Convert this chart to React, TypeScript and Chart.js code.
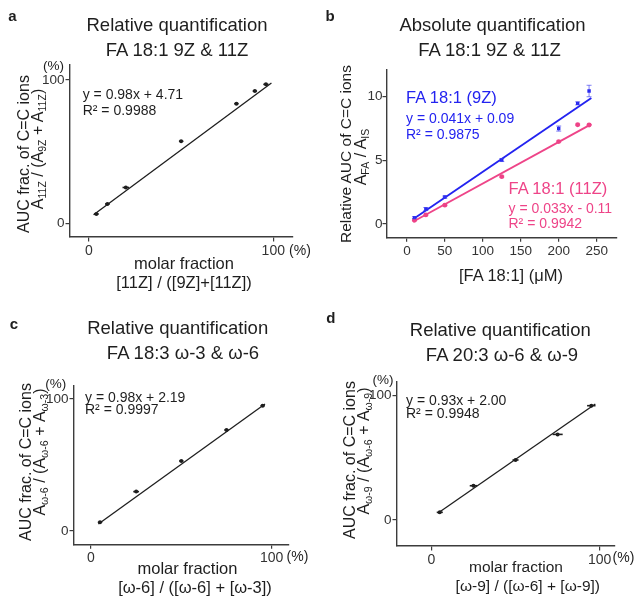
import React, { useEffect, useRef } from 'react';
import { Chart, registerables } from 'chart.js';

Chart.register(...registerables);

const FONT = '"Liberation Sans", Arial, Helvetica, sans-serif';
const INK = '#1e1e1e';
const AXIS = '#3c3c3c';
const TICK = '#333333';
const BLUE = '#2323f0';
const PINK = '#ee4488';

// ---------- Panel a: FA 18:1 9Z & 11Z (relative) ----------
const aX = [4, 10, 20, 50, 80, 90, 96];
const aY = [6.5, 13.5, 25, 57.3, 83.5, 92.3, 97];
const aXErr = [1.3, 1.3, 1.8, 1.2, 1.2, 1.2, 1.4];
const aFitX = [2.5, 99];
const aFitY = [6, 98];
const aXTicks = [0, 100];
const aYTicks = [0, 100];

// ---------- Panel b: FA 18:1 absolute ----------
const bX = [10, 25, 50, 125, 200, 225, 240];
const b9Z = [0.5, 1.18, 2.12, 5.03, 7.5, 9.48, 10.45];
const b9ZErr = [0.08, 0.12, 0.08, 0.12, 0.2, 0.12, 0.45];
const b11Z = [0.3, 0.72, 1.48, 3.72, 6.48, 7.8, 7.78];
const b11ZErr = [0.05, 0.05, 0.05, 0.06, 0.06, 0.06, 0.05];
const bFitX = [8, 243];
const b9ZFit = [0.38, 9.9];
const b11ZFit = [0.18, 7.85];
const bXTicks = [0, 50, 100, 150, 200, 250];
const bYTicks = [0, 5, 10];

// ---------- Panel c: FA 18:3 ω-3 & ω-6 ----------
const cX = [5, 25, 50, 75, 95];
const cY = [6.6, 29.8, 53, 76.5, 94.9];
const cXErr = [1.2, 1.6, 1.2, 1.2, 1.2];
const cFitX = [4.1, 96.3];
const cFitY = [5.3, 96.2];
const cXTicks = [0, 100];
const cYTicks = [0, 100];

// ---------- Panel d: FA 20:3 ω-6 & ω-9 ----------
const dX = [5, 25, 50, 75, 95];
const dY = [6.2, 27.6, 48.3, 68.9, 92];
const dXErr = [1.8, 2.2, 1.8, 3, 2.5];
const dFitX = [3.8, 97.4];
const dFitY = [5.4, 93.3];
const dXTicks = [0, 100];
const dYTicks = [0, 100];

const pts = (xs: number[], ys: number[]) => xs.map((x, i) => ({ x, y: ys[i] }));

const errorBarsPlugin = {
  id: 'errorBars',
  afterDatasetsDraw(chart: any) {
    const ctx = chart.ctx;
    const xs = chart.scales.x;
    const ys = chart.scales.y;
    chart.data.datasets.forEach((ds: any) => {
      const ex: number[] | undefined = ds.errX;
      const ey: number[] | undefined = ds.errY;
      if (!ex && !ey) return;
      ctx.save();
      ctx.strokeStyle = ds.errColor || ds.borderColor;
      ds.data.forEach((p: any, j: number) => {
        const px = xs.getPixelForValue(p.x);
        const py = ys.getPixelForValue(p.y);
        if (ey && ey[j]) {
          const y1 = ys.getPixelForValue(p.y - ey[j]);
          const y2 = ys.getPixelForValue(p.y + ey[j]);
          ctx.lineWidth = 1;
          ctx.beginPath();
          ctx.moveTo(px, y1);
          ctx.lineTo(px, y2);
          ctx.moveTo(px - 2.5, y1);
          ctx.lineTo(px + 2.5, y1);
          ctx.moveTo(px - 2.5, y2);
          ctx.lineTo(px + 2.5, y2);
          ctx.stroke();
        }
        if (ex && ex[j]) {
          const x1 = xs.getPixelForValue(p.x - ex[j]);
          const x2 = xs.getPixelForValue(p.x + ex[j]);
          ctx.lineWidth = 1.6;
          ctx.beginPath();
          ctx.moveTo(x1, py);
          ctx.lineTo(x2, py);
          ctx.stroke();
        }
      });
      ctx.restore();
    });
  },
};

type Box = [number, number, number, number];

interface PanelSpec {
  panel: Box; // x, y, w, h (page coords)
  area: Box; // left, top, right, bottom (page coords)
  xMin: number;
  xMax: number;
  yMin: number;
  yMax: number;
  xTicks: number[];
  yTicks: number[];
  xSize: number;
  ySize: number;
  tickLen: number;
  xPad: number;
  yPad: number;
  datasets: any[];
}

const Y_W = 40;
const X_H = 24;

function buildConfig(s: PanelSpec): any {
  const [px, py, pw, ph] = s.panel;
  const [L, T, R, B] = s.area;
  const padding = {
    left: L - px - Y_W,
    top: T - py,
    right: px + pw - R,
    bottom: py + ph - B - X_H,
  };
  const axis = (ticks: number[], pad: number, size: number) => ({
    type: 'linear',
    border: { display: true, color: AXIS, width: 1.4 },
    grid: {
      display: true,
      drawOnChartArea: false,
      drawTicks: true,
      tickLength: s.tickLen,
      color: AXIS,
      lineWidth: 1.2,
    },
    afterBuildTicks: (sc: any) => {
      sc.ticks = ticks.map((v) => ({ value: v }));
    },
    ticks: {
      color: TICK,
      font: { family: FONT, size },
      padding: pad,
      autoSkip: false,
      maxRotation: 0,
      callback: (v: any) => String(v),
    },
  });
  return {
    type: 'scatter',
    data: { datasets: s.datasets },
    options: {
      animation: false,
      responsive: false,
      maintainAspectRatio: false,
      events: [],
      layout: { padding },
      plugins: { legend: { display: false }, tooltip: { enabled: false } },
      scales: {
        x: {
          ...axis(s.xTicks, s.xPad, s.xSize),
          position: 'bottom',
          min: s.xMin,
          max: s.xMax,
          afterFit: (sc: any) => {
            sc.height = X_H;
          },
        },
        y: {
          ...axis(s.yTicks, s.yPad, s.ySize),
          position: 'left',
          min: s.yMin,
          max: s.yMax,
          afterFit: (sc: any) => {
            sc.width = Y_W;
          },
        },
      },
    },
    plugins: [errorBarsPlugin],
  };
}

const fitDs = (xs: number[], ys: number[], color: string, w: number) => ({
  data: pts(xs, ys),
  showLine: true,
  borderColor: color,
  borderWidth: w,
  pointRadius: 0,
  fill: false,
  order: 2,
});

const dotDs = (xs: number[], ys: number[], color: string, extra: any = {}) => ({
  data: pts(xs, ys),
  showLine: false,
  pointRadius: 2.2,
  pointBorderWidth: 0,
  backgroundColor: color,
  borderColor: color,
  order: 1,
  ...extra,
});

const specs: PanelSpec[] = [
  {
    panel: [0, 0, 317, 300],
    area: [70, 65, 293, 237],
    xMin: -10.3,
    xMax: 110.7,
    yMin: -9.56,
    yMax: 110.5,
    xTicks: aXTicks,
    yTicks: aYTicks,
    xSize: 14,
    ySize: 13.5,
    tickLen: 4.5,
    xPad: 1,
    yPad: 1,
    datasets: [
      fitDs(aFitX, aFitY, INK, 1.3),
      dotDs(aX, aY, INK, { pointRadius: 2, errX: aXErr }),
    ],
  },
  {
    panel: [317, 0, 317, 300],
    area: [387, 70, 616.7, 237.3],
    xMin: -26.2,
    xMax: 276.4,
    yMin: -1.04,
    yMax: 12.1,
    xTicks: bXTicks,
    yTicks: bYTicks,
    xSize: 13.5,
    ySize: 13.5,
    tickLen: 4.5,
    xPad: 1,
    yPad: 0,
    datasets: [
      fitDs(bFitX, b9ZFit, BLUE, 1.9),
      fitDs(bFitX, b11ZFit, PINK, 1.9),
      dotDs(bX, b9Z, BLUE, { pointStyle: 'rect', pointRadius: 2.4, errY: b9ZErr, errColor: 'rgba(60,60,240,0.65)' }),
      dotDs(bX, b11Z, PINK, { pointRadius: 2.4, errY: b11ZErr, errColor: 'rgba(238,68,136,0.6)' }),
    ],
  },
  {
    panel: [0, 300, 317, 297],
    area: [74, 386, 288.3, 544.3],
    xMin: -9.4,
    xMax: 109.2,
    yMin: -10.1,
    yMax: 109.8,
    xTicks: cXTicks,
    yTicks: cYTicks,
    xSize: 14,
    ySize: 13.5,
    tickLen: 4.5,
    xPad: 1,
    yPad: 1,
    datasets: [
      fitDs(cFitX, cFitY, INK, 1.3),
      dotDs(cX, cY, INK, { pointRadius: 2, errX: cXErr }),
    ],
  },
  {
    panel: [317, 300, 317, 297],
    area: [397, 381.7, 614.7, 546],
    xMin: -20.4,
    xMax: 108.9,
    yMin: -20.9,
    yMax: 111.3,
    xTicks: dXTicks,
    yTicks: dYTicks,
    xSize: 14,
    ySize: 13.5,
    tickLen: 4.5,
    xPad: 1,
    yPad: 1,
    datasets: [
      fitDs(dFitX, dFitY, INK, 1.3),
      dotDs(dX, dY, INK, { pointRadius: 2, errX: dXErr }),
    ],
  },
];

function PanelChart({ spec }: { spec: PanelSpec }) {
  const ref = useRef<HTMLCanvasElement>(null);
  useEffect(() => {
    const chart = new Chart(ref.current as HTMLCanvasElement, buildConfig(spec));
    return () => chart.destroy();
  }, [spec]);
  const [x, y, w, h] = spec.panel;
  return (
    <canvas
      ref={ref}
      width={w}
      height={h}
      style={{ position: 'absolute', left: x, top: y, width: w, height: h }}
    />
  );
}

interface TxtProps {
  x: number;
  y: number;
  size: number;
  children: React.ReactNode;
  align?: 'center' | 'left';
  color?: string;
  bold?: boolean;
  rotate?: boolean;
}

function Txt({ x, y, size, children, align = 'center', color = INK, bold = false, rotate = false }: TxtProps) {
  const transform = rotate
    ? 'translate(-50%,-50%) rotate(-90deg)'
    : align === 'center'
    ? 'translate(-50%,-50%)'
    : 'translate(0,-50%)';
  return (
    <div
      style={{
        position: 'absolute',
        left: x,
        top: y,
        fontSize: size,
        fontFamily: FONT,
        color,
        fontWeight: bold ? 'bold' : 'normal',
        whiteSpace: 'nowrap',
        lineHeight: 1,
        transform,
        pointerEvents: 'none',
      }}
    >
      {children}
    </div>
  );
}

const Sub = ({ children }: { children: React.ReactNode }) => (
  <span style={{ fontSize: '0.66em', position: 'relative', top: '0.32em' }}>{children}</span>
);

export default function App() {
  return (
    <div
      style={{
        position: 'absolute',
        left: 0,
        top: 0,
        width: 634,
        height: 597,
        background: '#ffffff',
        overflow: 'hidden',
      }}
    >
      {specs.map((s, i) => (
        <PanelChart key={i} spec={s} />
      ))}

      {/* ---- panel a ---- */}
      <Txt x={12.5} y={15} size={15} bold>a</Txt>
      <Txt x={177} y={24.5} size={18.5}>Relative quantification</Txt>
      <Txt x={177} y={50} size={18.5}>FA 18:1 9Z &amp; 11Z</Txt>
      <Txt x={24} y={154} size={16} rotate>AUC frac. of C=C ions</Txt>
      <Txt x={38} y={149} size={16} rotate>
        A<Sub>11Z</Sub> / (A<Sub>9Z</Sub> + A<Sub>11Z</Sub>)
      </Txt>
      <Txt x={53.5} y={66} size={13.5}>(%)</Txt>
      <Txt x={300} y={250} size={14}>(%)</Txt>
      <Txt x={82.7} y={94.3} size={14} align="left">y = 0.98x + 4.71</Txt>
      <Txt x={82.7} y={110} size={14} align="left">R² = 0.9988</Txt>
      <Txt x={184} y={263} size={16.5}>molar fraction</Txt>
      <Txt x={184} y={281.5} size={16.5}>[11Z] / ([9Z]+[11Z])</Txt>

      {/* ---- panel b ---- */}
      <Txt x={330} y={14.5} size={15} bold>b</Txt>
      <Txt x={492.5} y={24.5} size={18.5}>Absolute quantification</Txt>
      <Txt x={489.5} y={50} size={18.5}>FA 18:1 9Z &amp; 11Z</Txt>
      <Txt x={346} y={154} size={15.5} rotate>Relative AUC of C=C ions</Txt>
      <Txt x={361} y={157} size={16} rotate>
        A<Sub>FA</Sub> / A<Sub>IS</Sub>
      </Txt>
      <Txt x={406} y={96.5} size={16.5} align="left" color={BLUE}>FA 18:1 (9Z)</Txt>
      <Txt x={406} y={118} size={14} align="left" color={BLUE}>y = 0.041x + 0.09</Txt>
      <Txt x={406} y={133.5} size={14} align="left" color={BLUE}>R² = 0.9875</Txt>
      <Txt x={508.5} y={188} size={16.5} align="left" color={PINK}>FA 18:1 (11Z)</Txt>
      <Txt x={508.5} y={207.5} size={14} align="left" color={PINK}>y = 0.033x - 0.11</Txt>
      <Txt x={508.5} y={223} size={14} align="left" color={PINK}>R² = 0.9942</Txt>
      <Txt x={511} y={275} size={16.5}>[FA 18:1] (μM)</Txt>

      {/* ---- panel c ---- */}
      <Txt x={14} y={322.5} size={15} bold>c</Txt>
      <Txt x={177.7} y={327.5} size={18.5}>Relative quantification</Txt>
      <Txt x={183} y={353} size={18.5}>FA 18:3 ω-3 &amp; ω-6</Txt>
      <Txt x={25.7} y={462} size={16} rotate>AUC frac. of C=C ions</Txt>
      <Txt x={40} y={452} size={16} rotate>
        A<Sub>ω-6</Sub> / (A<Sub>ω-6</Sub> + A<Sub>ω-3</Sub>)
      </Txt>
      <Txt x={55.7} y={384} size={13.5}>(%)</Txt>
      <Txt x={297.5} y={555.5} size={14}>(%)</Txt>
      <Txt x={85} y={396.5} size={14} align="left">y = 0.98x + 2.19</Txt>
      <Txt x={85} y={409} size={14} align="left">R² = 0.9997</Txt>
      <Txt x={187.5} y={568} size={16.5}>molar fraction</Txt>
      <Txt x={195} y={587} size={16.5}>[ω-6] / ([ω-6] + [ω-3])</Txt>

      {/* ---- panel d ---- */}
      <Txt x={330.8} y={316.7} size={15} bold>d</Txt>
      <Txt x={500.3} y={330} size={18.5}>Relative quantification</Txt>
      <Txt x={502} y={355} size={18.5}>FA 20:3 ω-6 &amp; ω-9</Txt>
      <Txt x={350.3} y={460} size={16} rotate>AUC frac. of C=C ions</Txt>
      <Txt x={364.3} y={451} size={16} rotate>
        A<Sub>ω-9</Sub> / (A<Sub>ω-6</Sub> + A<Sub>ω-9</Sub>)
      </Txt>
      <Txt x={383} y={380} size={13.5}>(%)</Txt>
      <Txt x={623.5} y={556.7} size={14}>(%)</Txt>
      <Txt x={406} y={400} size={14} align="left">y = 0.93x + 2.00</Txt>
      <Txt x={406} y={413.3} size={14} align="left">R² = 0.9948</Txt>
      <Txt x={516} y={566.7} size={15.5}>molar fraction</Txt>
      <Txt x={527.8} y={585.7} size={15.5}>[ω-9] / ([ω-6] + [ω-9])</Txt>
    </div>
  );
}
